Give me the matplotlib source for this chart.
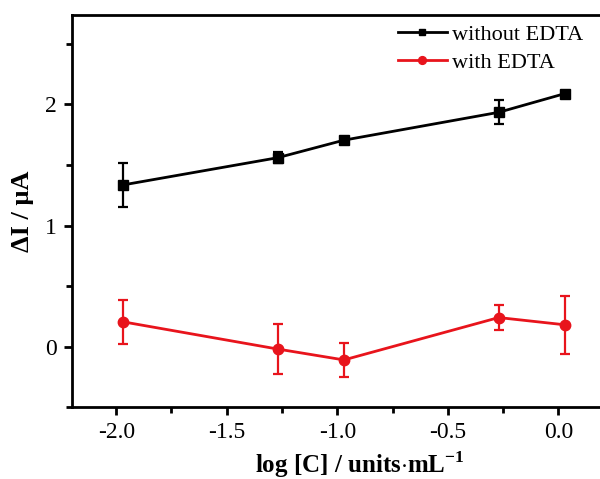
import numpy as np
import matplotlib
matplotlib.use('Agg')
from matplotlib import pyplot as plt
from matplotlib.ticker import MultipleLocator

plt.rcParams['font.family'] = ['Liberation Serif', 'DejaVu Serif']
plt.rcParams['mathtext.fontset'] = 'custom'
plt.rcParams['mathtext.rm'] = 'Liberation Serif'
plt.rcParams['mathtext.bf'] = 'Liberation Serif:bold'

# log concentration (units/mL)
log_c = [-1.97, -1.27, -0.97, -0.27, 0.03]

# without EDTA
dI_without = [1.335, 1.56, 1.705, 1.935, 2.09]
err_without = [0.185, 0.045, 0.02, 0.10, 0.02]

# with EDTA
dI_with = [0.205, -0.02, -0.11, 0.24, 0.18]
err_with = [0.18, 0.21, 0.14, 0.105, 0.24]

fig = plt.figure(figsize=(6.0, 4.79), dpi=100)
# axes runs past the right edge (cropped like the original)
ax = fig.add_axes([0.12, 0.150, 0.958, 0.819])

red = '#e8141c'
ax.errorbar(log_c, dI_without, yerr=err_without, fmt='none', ecolor='black',
            capsize=3.6, elinewidth=1.6, capthick=1.6)
ax.errorbar(log_c, dI_with, yerr=err_with, fmt='none', ecolor=red,
            capsize=3.6, elinewidth=1.6, capthick=1.6)
ax.plot(log_c, dI_without, color='black', marker='s', ms=6.5, lw=2.0,
        label='without EDTA')
ax.plot(log_c, dI_with, color=red, marker='o', ms=7.5, lw=2.0,
        label='with EDTA')

ax.set_xlim(-2.2, 0.4)
ax.set_ylim(-0.5, 2.74)
ax.set_xticks([-2.0, -1.5, -1.0, -0.5, 0.0])
ax.set_xticklabels(['-2.0', '-1.5', '-1.0', '-0.5', '0.0'])
ax.xaxis.set_minor_locator(MultipleLocator(0.25))
ax.set_yticks([0, 1, 2])
ax.set_yticklabels(['0', '1', '2'])
ax.yaxis.set_minor_locator(MultipleLocator(0.5))

for s in ax.spines.values():
    s.set_linewidth(2.0)
ax.tick_params(which='major', direction='out', length=6, width=2.0, labelsize=17, pad=5)
ax.tick_params(which='minor', direction='out', length=4, width=2.0)
ax.tick_params(top=False, right=False, which='both')

ax.set_xlabel(r'log [C] / units$\cdot$mL$^{\mathbf{-1}}$', fontsize=18,
              fontweight='bold', labelpad=4)
ax.set_ylabel('ΔI / μA', fontsize=19, fontweight='bold', labelpad=8)

leg = ax.legend(loc='upper left', bbox_to_anchor=(398 / 600, 1 - 24 / 479),
                bbox_transform=fig.transFigure, frameon=False,
                fontsize=16, handlelength=2.2, handletextpad=0.25,
                labelspacing=0.35, borderaxespad=0, borderpad=0, markerscale=0.75)

fig.savefig('out.png', dpi=100)
